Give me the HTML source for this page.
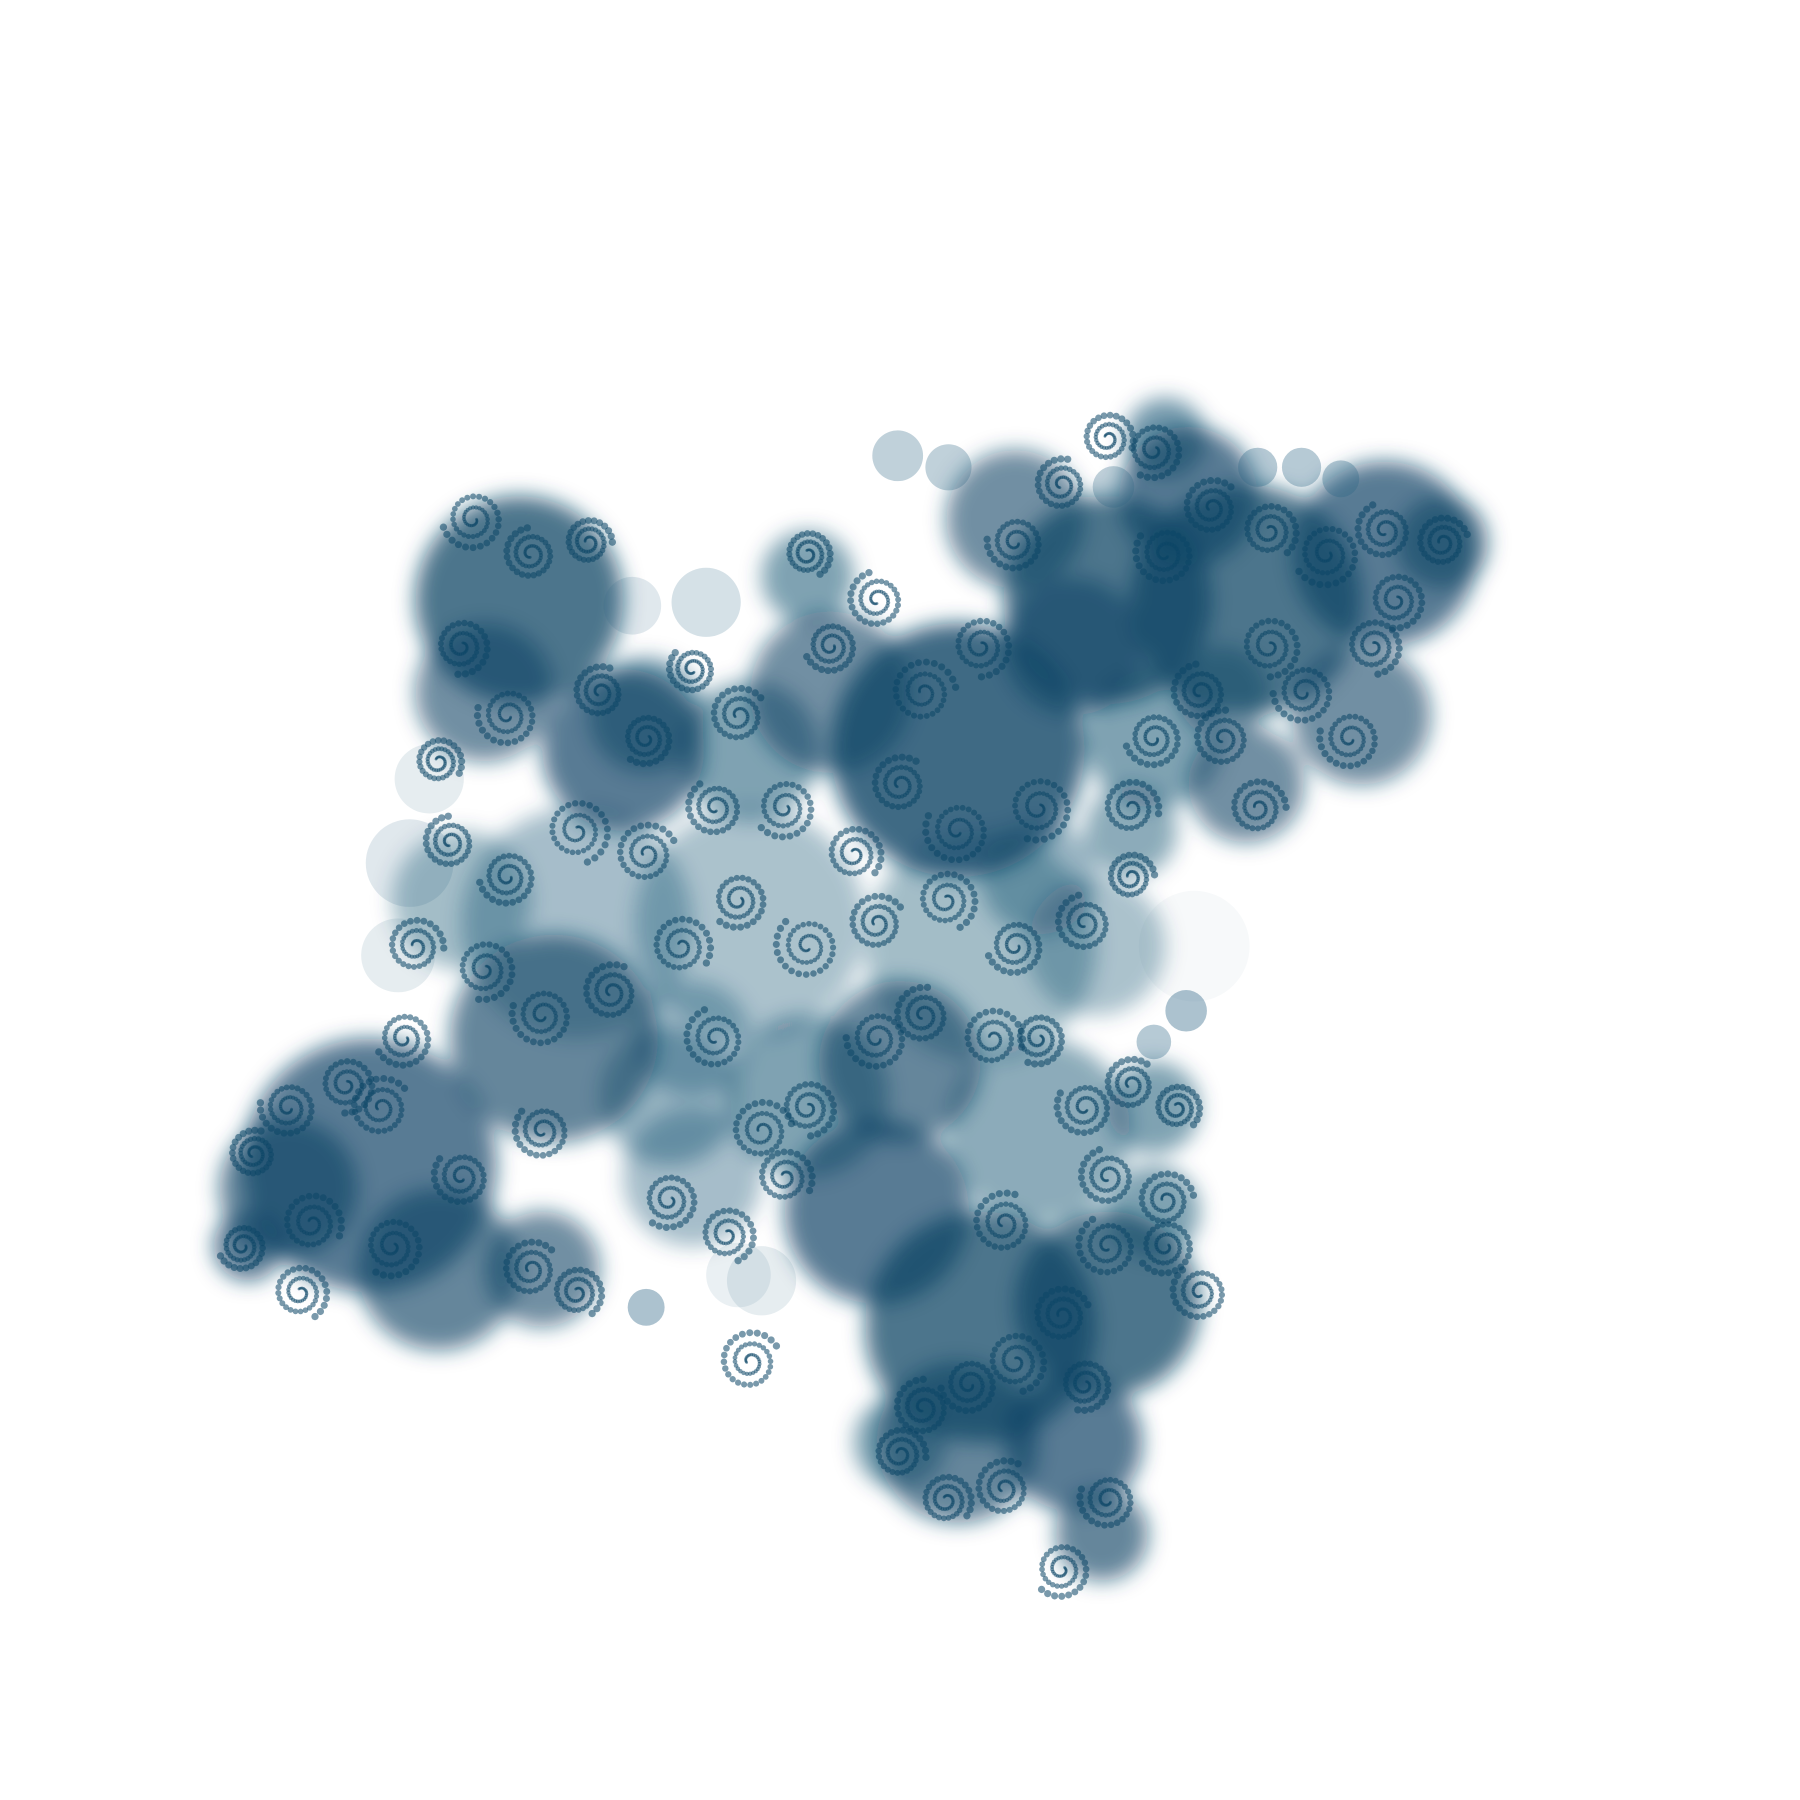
<!DOCTYPE html>
<html><head><meta charset="utf-8"><style>html,body{margin:0;padding:0;background:#fff}svg{display:block}</style></head>
<body>
<svg id="art" width="1800" height="1800" viewBox="0 0 1560 1560" xmlns="http://www.w3.org/2000/svg">
<defs><filter id="bl" x="-50%" y="-50%" width="200%" height="200%"><feGaussianBlur stdDeviation="9"/></filter></defs>
<rect width="1560" height="1560" fill="#fff"/>
<g id="blobs" filter="url(#bl)"></g>
<g id="big"></g>
<g id="spirals"></g>
</svg>
<script>
const blobX=[450,420,540,880,960,1030,1080,1200,1250,1180,1080,830,720,700,650,500,650,850,400,950,480,780,700,580,320,250,215,380,470,600,900,1000,760,850,960,1000,830,930,955,780,560,1010,1000,980,600,1060,900,930];
const blobY=[520,600,650,450,520,430,520,480,470,620,680,650,600,500,650,800,800,820,780,820,900,920,950,950,1010,1030,1080,1100,1100,1020,980,960,1050,1150,1130,1050,1250,1250,1330,1250,620,380,640,720,900,600,760,560];
const blobR=[90,60,70,60,90,60,100,80,40,60,50,110,70,40,60,100,100,100,60,60,90,70,70,60,110,60,30,70,50,60,80,40,80,100,80,40,70,60,40,40,50,35,60,40,50,40,50,60];
const blobA=[0.75,0.6,0.7,0.6,0.75,0.7,0.75,0.7,0.6,0.6,0.6,0.8,0.6,0.5,0.5,0.35,0.33,0.36,0.36,0.33,0.65,0.65,0.5,0.4,0.7,0.65,0.7,0.65,0.6,0.35,0.45,0.5,0.7,0.75,0.75,0.5,0.65,0.7,0.65,0.5,0.55,0.55,0.5,0.45,0.35,0.5,0.4,0.6];
const bigX=[778,822,612,548,355,372,345,1035,560,1028,1090,1128,1162,965,1000,660,640];
const bigY=[395,405,522,525,748,675,828,820,1133,876,405,405,415,422,903,1110,1105];
const bigR=[22,20,30,25,38,30,32,48,16,18,17,17,16,18,15,30,28];
const bigA=[0.3,0.3,0.2,0.15,0.15,0.12,0.12,0.04,0.4,0.4,0.35,0.35,0.35,0.3,0.35,0.12,0.1];
const spX=[410,460,510,400,440,520,380,560,600,640,700,720,760,800,850,880,920,960,1000,1010,1050,1100,1150,1200,1250,1190,1130,1060,980,900,830,780,740,680,620,560,500,440,390,360,420,470,530,590,640,700,760,820,880,940,980,300,250,220,270,340,400,460,500,350,620,660,700,760,800,860,900,940,980,1020,1010,960,920,880,840,800,780,940,960,870,820,920,1040,650,630,1000,1040,1090,1210,1170,870,680,580,470,330,260,210,960,1010,1100];
const spY=[450,480,470,560,620,600,660,640,580,620,480,560,520,600,560,470,420,380,390,480,440,460,480,460,470,560,600,640,700,700,720,680,740,700,700,740,720,760,730,820,840,880,860,820,780,820,800,780,820,800,760,940,960,1000,1060,1080,1020,1100,1120,900,900,980,960,900,880,900,900,960,940,960,1080,1080,1140,1180,1200,1220,1260,1200,1300,1290,1300,1360,1120,1180,1070,640,600,700,520,640,1060,1020,1040,980,960,1120,1080,1020,1040,560];
const spR=[24,20,18,22,24,20,18,20,18,22,18,20,22,26,24,22,20,20,22,24,22,22,26,22,20,22,24,22,22,26,26,22,22,24,22,24,26,22,20,22,24,24,22,24,22,26,22,24,22,22,18,22,22,18,24,24,22,22,20,22,24,24,22,24,22,24,20,22,20,18,22,24,22,24,22,22,20,20,22,22,20,22,22,24,22,22,22,22,22,24,24,22,22,22,24,22,18,22,22,24];
const ns="http://www.w3.org/2000/svg", C="#0b4566";
const gB=document.getElementById('blobs');
for(let i=0;i<blobX.length;i++){const c=document.createElementNS(ns,'circle');


c.setAttribute('cx',blobX[i]);c.setAttribute('cy',blobY[i]);c.setAttribute('r',blobR[i]);c.setAttribute('fill',C);c.setAttribute('fill-opacity',blobA[i]);gB.appendChild(c);}
const gG=document.getElementById('big');
for(let i=0;i<bigX.length;i++){const c=document.createElementNS(ns,'circle');


c.setAttribute('cx',bigX[i]);c.setAttribute('cy',bigY[i]);c.setAttribute('r',bigR[i]);c.setAttribute('fill','#2f6786');c.setAttribute('fill-opacity',bigA[i]);gG.appendChild(c);}
const gS=document.getElementById('spirals');
for(let i=0;i<spX.length;i++){const g=document.createElementNS(ns,'g');


const R=spR[i], n=60, rot=i*1.7;
for(let k=0;k<n;k++){const t=k/n, a=rot+t*5*Math.PI, r=3+t*R;
const d=document.createElementNS(ns,'circle');


d.setAttribute('cx',(spX[i]+r*Math.cos(a)).toFixed(1));d.setAttribute('cy',(spY[i]+r*Math.sin(a)).toFixed(1));d.setAttribute('r',(1.2+t*2).toFixed(2));d.setAttribute('fill',C);d.setAttribute('fill-opacity',0.55);g.appendChild(d);}
gS.appendChild(g);}
</script>
</body></html>
